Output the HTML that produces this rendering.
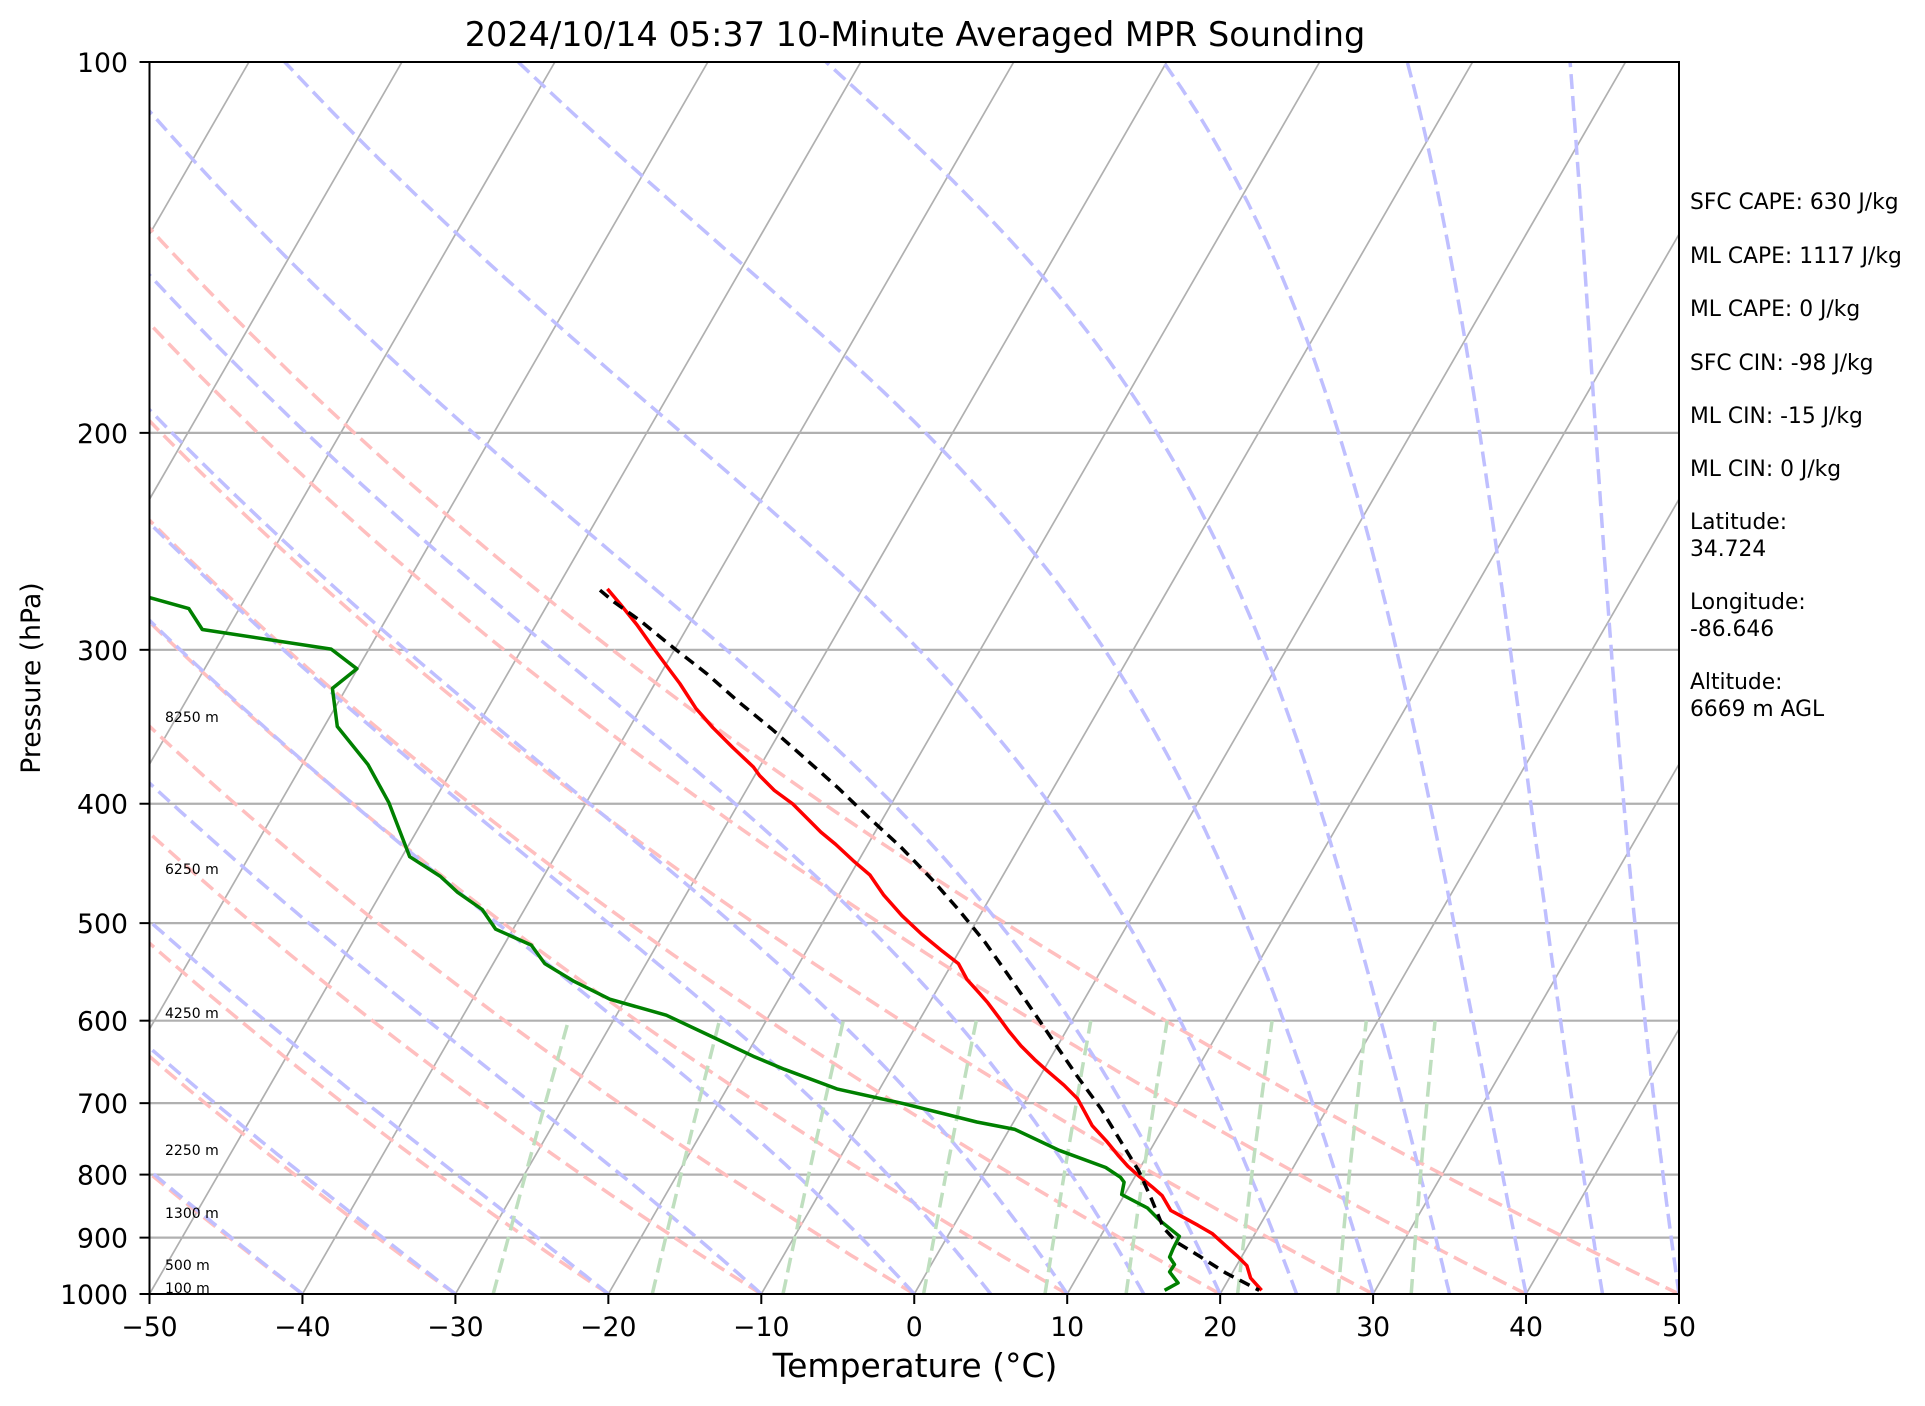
<!DOCTYPE html>
<html><head><meta charset="utf-8">
<style>
html,body{margin:0;padding:0;background:#fff;}
svg{display:block;}
text{font-family:"DejaVu Sans","Liberation Sans",sans-serif;fill:#000;}
</style></head>
<body>
<svg id="s" xmlns="http://www.w3.org/2000/svg" width="1925" height="1406" viewBox="0 0 1925 1406">
<defs><clipPath id="c"><rect x="149.5" y="62" width="1529.5" height="1232"/></clipPath></defs>
<rect width="1925" height="1406" fill="#fff"/>
<g id="bg" clip-path="url(#c)"></g>
<g id="dat" clip-path="url(#c)"></g>
<g id="ax"></g>
<text x="915" y="46" font-size="33.5" text-anchor="middle">2024/10/14 05:37 10-Minute Averaged MPR Sounding</text>
<text x="915" y="1377" font-size="33" text-anchor="middle">Temperature (°C)</text>
<text transform="translate(40,678) rotate(-90)" font-size="26.7" text-anchor="middle">Pressure (hPa)</text>
<g font-size="21.8">
<text x="1690" y="209">SFC CAPE: 630 J/kg</text>
<text x="1690" y="263">ML CAPE: 1117 J/kg</text>
<text x="1690" y="316">ML CAPE: 0 J/kg</text>
<text x="1690" y="370">SFC CIN: -98 J/kg</text>
<text x="1690" y="423">ML CIN: -15 J/kg</text>
<text x="1690" y="476">ML CIN: 0 J/kg</text>
<text x="1690" y="529">Latitude:</text>
<text x="1690" y="556">34.724</text>
<text x="1690" y="609">Longitude:</text>
<text x="1690" y="636">-86.646</text>
<text x="1690" y="689">Altitude:</text>
<text x="1690" y="716">6669 m AGL</text>
</g>
<g font-size="14">
<text x="165" y="722">8250 m</text>
<text x="165" y="874">6250 m</text>
<text x="165" y="1018">4250 m</text>
<text x="165" y="1155">2250 m</text>
<text x="165" y="1218">1300 m</text>
<text x="165" y="1270">500 m</text>
<text x="165" y="1293">100 m</text>
</g>
</svg>
<script>
(function(){
var NS="http://www.w3.org/2000/svg";
var L=149.5,R=1679,T0=62,B=1294,W=R-L,H=B-T0,TAN=Math.tan(Math.PI/6);
function Y(p){return T0+H*Math.log10(p/100);}
function X(t,p){return L+(t+50)*W/100+(B-Y(p))*TAN;}
function el(g,tag,a){var e=document.createElementNS(NS,tag);for(var k in a)e.setAttribute(k,a[k]);g.appendChild(e);return e;}
function poly(g,pts,st,w,dash){var d=pts.map(function(q){return q[0].toFixed(1)+","+q[1].toFixed(1);}).join(" ");
 var a={points:d,fill:"none",stroke:st,"stroke-width":w,"stroke-linejoin":"round"};if(dash)a["stroke-dasharray"]=dash;el(g,"polyline",a);}
var bg=document.getElementById("bg"),dat=document.getElementById("dat"),ax=document.getElementById("ax");
[200,300,400,500,600,700,800,900].forEach(function(p){el(bg,"line",{x1:L,x2:R,y1:Y(p),y2:Y(p),stroke:"#b0b0b0","stroke-width":2.2});});
for(var t=-160;t<=50;t+=10){el(bg,"line",{x1:X(t,1000),y1:B,x2:X(t,100),y2:T0,stroke:"#b0b0b0","stroke-width":1.7});}
for(var t0=-50;t0<=50;t0+=10){var th=t0+273.15,pts=[];for(var p=1000;p>=100;p-=10){pts.push([X(th*Math.pow(p/1000,0.2857)-273.15,p),Y(p)]);}
 poly(bg,pts,"rgb(255,191,191)",3.5,"15 7");}
function es(T){return 611.2*Math.exp(17.67*(T-273.15)/(T-29.65));}
function dTdp(T,p){var e=es(T),rs=0.622*e/(p-e);return (287.04*T+2.501e6*rs)/(p*(1005.7+2.501e6*2.501e6*rs*0.622/(287.04*T*T)));}
var mt=[-50,-40,-30,-20,-10];for(var k=0;k<=100;k+=5)mt.push(k);
mt.forEach(function(t0){var T=t0+273.15,p=100000,pts=[[X(t0,1000),Y(1000)]],dp=-500;
 while(p>10000+1){var k1=dTdp(T,p),k2=dTdp(T+k1*dp/2,p+dp/2),k3=dTdp(T+k2*dp/2,p+dp/2),k4=dTdp(T+k3*dp,p+dp);
  T+=dp*(k1+2*k2+2*k3+k4)/6;p+=dp;pts.push([X(T-273.15,p/100),Y(p/100)]);}
 poly(bg,pts,"rgb(191,191,255)",3.5,"15 7");});
[0.0004,0.001,0.002,0.004,0.007,0.01,0.016,0.024,0.032].forEach(function(w){var pts=[];for(var p=1000;p>=600;p-=20){var e=p*w/(0.622+w),l=Math.log(e/6.112),td=243.5*l/(17.67-l);pts.push([X(td,p),Y(p)]);}
 poly(bg,pts,"rgb(191,223,191)",3.5,"15 7");});
function cv(a){var o=[];for(var i=0;i<a.length;i+=2)o.push([149.5+(a[i]-121)*1.2275,62+(a[i+1]-50)*1.2283]);return o;}
var red=[494,479,505,492,518,508,530,525,541,540,553,556,566,576,580,592,596,608,613,624,618,631,630,643,645,654,658,667,668,677,680,687,694,700,708,712,719,728,734,745,750,760,767,774,780,784,787,797,797,808,804,816,813,828,821,839,831,851,842,862,852,871,866,883,877,894,883,905,889,916,901,929,910,940,918,949,927,957,938,966,946,973,953,985,964,991,975,997,987,1004,997,1013,1007,1022,1015,1030,1018,1040,1027,1050];
var grn=[121,486,153,495,164,512,269,528,290,544,270,560,274,591,299,622,316,653,333,697,358,713,372,726,392,740,403,756,432,769,443,784,466,798,496,813,542,826,578,843,614,860,638,870,681,886,735,898,795,913,826,919,862,936,900,950,912,958,915,962,913,972,934,983,944,993,960,1006,955,1016,952,1023,956,1029,952,1035,959,1044,948,1050];
var blk=[488,480,500,490,521,505,548,527,575,548,601,571,628,593,655,617,682,641,708,666,733,689,758,715,780,740,802,767,821,794,843,826,860,851,877,876,896,902,913,930,927,953,937,975,947,999,958,1011,976,1022,998,1036,1025,1050];
poly(dat,cv(red),"#ff0000",3.5);
poly(dat,cv(grn),"#008000",3.5);
poly(dat,cv(blk),"#000",3.5,"11 7");
el(ax,"rect",{x:L,y:T0,width:W,height:H,fill:"none",stroke:"#000","stroke-width":2});
for(var t=-50;t<=50;t+=10){var x=L+(t+50)*W/100;el(ax,"line",{x1:x,x2:x,y1:B,y2:B+10,stroke:"#000","stroke-width":2});
 var tx=el(ax,"text",{x:x,y:1336,"font-size":26.7,"text-anchor":"middle"});tx.textContent=(t<0?"\u2212"+(-t):""+t);}
for(var p=100;p<=1000;p+=100){var y=Y(p);el(ax,"line",{x1:L-10,x2:L,y1:y,y2:y,stroke:"#000","stroke-width":2});
 var ty=el(ax,"text",{x:128,y:y+10,"font-size":26.7,"text-anchor":"end"});ty.textContent=""+p;}
})();
</script>
</body></html>
